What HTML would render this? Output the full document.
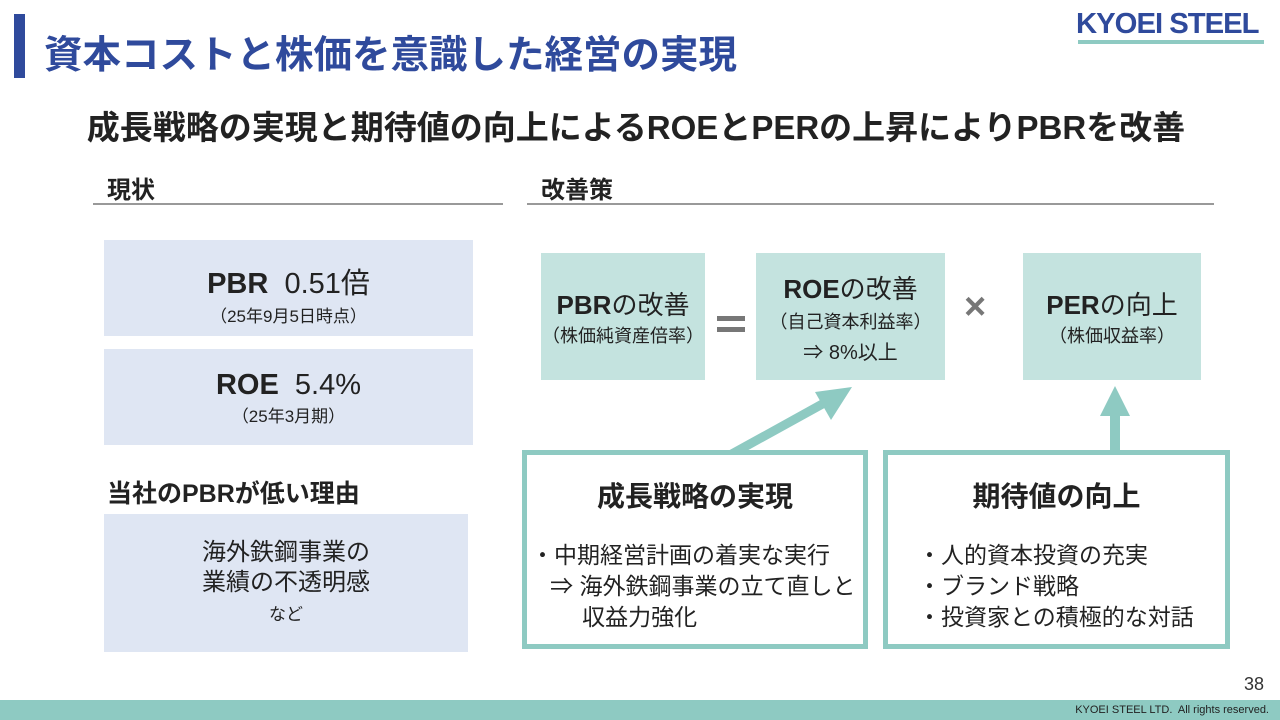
<!DOCTYPE html>
<html><head><meta charset="utf-8"><style>
*{margin:0;padding:0;box-sizing:border-box}
body{width:1280px;height:720px;background:#fff;position:relative;overflow:hidden;font-family:"Liberation Sans","Noto Sans CJK JP",sans-serif;color:#222}
.a{position:absolute}
.c{text-align:center}
.lb{background:#dfe6f3}
.tb{background:#c4e3df;display:flex;flex-direction:column;justify-content:center;align-items:center;text-align:center}
.fr{border:5px solid #8ecac2;background:#fff}
</style></head><body>
<div class="a" style="left:14px;top:14px;width:11px;height:64px;background:#2f4a9c"></div>
<div class="a" style="left:44px;top:24px;font-size:38.5px;font-weight:bold;color:#2f4a9c;white-space:nowrap">資本コストと株価を意識した経営の実現</div>
<div class="a" style="left:1076px;top:8px;font-size:29px;font-weight:bold;color:#2f4a9c;letter-spacing:-1px;transform:scaleX(1.01);transform-origin:left;white-space:nowrap">KYOEI STEEL</div>
<div class="a" style="left:1078px;top:40px;width:186px;height:4px;background:#8ecac2"></div>
<div class="a c" style="left:0;width:1272px;top:101px;font-size:33px;font-weight:bold;white-space:nowrap">成長戦略の実現と期待値の向上によるROEとPERの上昇によりPBRを改善</div>
<div class="a" style="left:107px;top:170px;font-size:24px;font-weight:bold">現状</div>
<div class="a" style="left:93px;top:203px;width:410px;height:2px;background:#999"></div>
<div class="a" style="left:541px;top:170px;font-size:24px;font-weight:bold">改善策</div>
<div class="a" style="left:527px;top:203px;width:687px;height:2px;background:#999"></div>

<div class="a lb c" style="left:104px;top:240px;width:369px;height:96px;padding-top:20px">
<div style="font-size:29px"><b>PBR</b>&nbsp; 0.51倍</div><div style="font-size:17px;margin-top:0px">（25年9月5日時点）</div></div>
<div class="a lb c" style="left:104px;top:349px;width:369px;height:96px;padding-top:20px">
<div style="font-size:29px"><b>ROE</b>&nbsp; 5.4%</div><div style="font-size:17px;margin-top:0px">（25年3月期）</div></div>
<div class="a" style="left:107px;top:474px;font-size:25px;font-weight:bold">当社のPBRが低い理由</div>
<div class="a lb c" style="left:104px;top:514px;width:364px;height:138px;padding-top:24px;font-size:24px;line-height:30px">海外鉄鋼事業の<br>業績の不透明感<br><span style="font-size:17px">など</span></div>

<div class="a tb" style="left:541px;top:253px;width:164px;height:127px"><div style="font-size:26px"><b>PBR</b>の改善</div><div style="font-size:18px">（株価純資産倍率）</div></div>
<div class="a tb" style="left:756px;top:253px;width:189px;height:127px"><div style="font-size:26px"><b>ROE</b>の改善</div><div style="font-size:18px;margin-top:2px">（自己資本利益率）</div><div style="font-size:20px;margin-top:2px">⇒ 8%以上</div></div>
<div class="a tb" style="left:1023px;top:253px;width:178px;height:127px"><div style="font-size:26px"><b>PER</b>の向上</div><div style="font-size:18px">（株価収益率）</div></div>
<div class="a" style="left:717px;top:316px;width:28px;height:5px;background:#777"></div>
<div class="a" style="left:717px;top:327px;width:28px;height:5px;background:#777"></div>
<div class="a" style="left:964px;top:286px;font-size:38px;font-weight:bold;color:#777">×</div>

<svg class="a" style="left:0;top:0" width="1280" height="720">
<line x1="730" y1="455" x2="826" y2="402" stroke="#8ecac2" stroke-width="9"/>
<polygon points="852,387 815,392 831,420" fill="#8ecac2"/>
<rect x="1110" y="412" width="10" height="42" fill="#8ecac2"/>
<polygon points="1115,386 1100,416 1130,416" fill="#8ecac2"/>
</svg>
<div class="a fr" style="left:522px;top:450px;width:346px;height:199px">
<div class="c" style="margin-top:20px;font-size:28px;font-weight:bold">成長戦略の実現</div>
<div style="margin:25px 0 0 4px;font-size:23px;line-height:31px;white-space:nowrap">・中期経営計画の着実な実行<br>&nbsp;&nbsp;&nbsp;⇒ 海外鉄鋼事業の立て直しと<br>&nbsp;&nbsp;&nbsp;&nbsp;&nbsp;&nbsp;&nbsp;&nbsp;収益力強化</div></div>
<div class="a fr" style="left:883px;top:450px;width:347px;height:199px">
<div class="c" style="margin-top:20px;font-size:28px;font-weight:bold">期待値の向上</div>
<div style="margin:25px 0 0 30px;font-size:23px;line-height:31px;white-space:nowrap">・人的資本投資の充実<br>・ブランド戦略<br>・投資家との積極的な対話</div></div>

<div class="a" style="left:1244px;top:674px;font-size:18px;color:#333">38</div>
<div class="a" style="left:0;top:700px;width:1280px;height:20px;background:#8ecac2"></div>
<div class="a" style="right:11px;top:704px;font-size:11px;color:#222">KYOEI STEEL LTD.&nbsp; All rights reserved.</div>
</body></html>
